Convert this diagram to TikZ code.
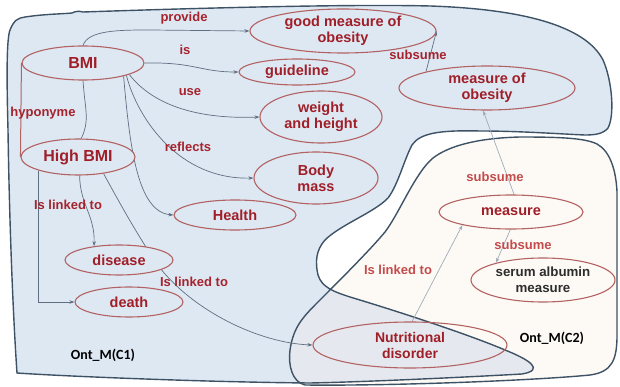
\documentclass[tikz,border=0pt]{standalone}
\usepackage{fontspec}
\setmainfont{Liberation Sans}
\newfontfamily\calfont{Carlito}
\usetikzlibrary{arrows.meta,shapes.geometric}
\pgfdeclarelayer{bg}
\pgfdeclarelayer{lines}
\pgfsetlayers{bg,lines,main}
\definecolor{cOneFill}{RGB}{222,232,243}
\definecolor{cTwoFill}{RGB}{253,250,245}
\definecolor{cBoth}{RGB}{229,233,239}
\definecolor{regline}{RGB}{62,82,102}
\definecolor{entline}{RGB}{178,98,98}
\definecolor{enttext}{RGB}{160,30,40}
\definecolor{reltext}{RGB}{165,35,45}
\definecolor{reltextb}{RGB}{195,75,75}
\definecolor{lnkcol}{RGB}{95,110,128}
\definecolor{lnkcolb}{RGB}{160,172,185}
\begin{document}
\begin{tikzpicture}[x=1pt,y=-1pt,
 ent/.style={ellipse, draw=entline, line width=1.1pt, inner sep=0pt, align=center, text=enttext, font=\fontsize{14.5}{16}\selectfont\bfseries},
 rel/.style={text=reltext, font=\fontsize{13}{15}\selectfont\bfseries, inner sep=0pt},
 relb/.style={rel, text=reltextb},
 lnk/.style={draw=lnkcol, line width=0.7pt, -{Stealth[length=5pt,width=3.5pt]}},
 lnkb/.style={lnk, draw=lnkcolb},
 plainlnk/.style={draw=lnkcol, line width=0.7pt},
 region/.style={draw=regline, line width=1.4pt},
 ontlabel/.style={font=\calfont\fontsize{14}{16}\selectfont\bfseries, text=black, inner sep=0pt}
]
\useasboundingbox (0,0) rectangle (620,387);

% regions
\path[save path=\pathCone]
 (25,17) .. controls (45,14) and (62,14) .. (72,13)
 .. controls (76,11) and (79,11) .. (83,12)
 .. controls (200,8) and (350,4) .. (430,6)
 .. controls (520,9) and (585,25) .. (603,60)
 .. controls (612,80) and (615,115) .. (608,128)
 .. controls (603,134) and (595,135) .. (585,135)
 .. controls (560,134) and (520,131) .. (480,131)
 .. controls (440,130) and (420,133) .. (412,145)
 .. controls (404,160) and (398,185) .. (388,198)
 .. controls (375,212) and (340,225) .. (325,240)
 .. controls (316,250) and (315,262) .. (318,275)
 .. controls (322,288) and (335,292) .. (350,297)
 .. controls (400,312) and (470,335) .. (505,350)
 .. controls (530,360) and (545,370) .. (522,374)
 .. controls (450,378) and (360,382) .. (310,383)
 .. controls (200,382) and (60,376) .. (17,373)
 .. controls (12,300) and (9,200) .. (8,130)
 .. controls (7,90) and (6,40) .. (10,30)
 .. controls (14,20) and (18,18) .. (25,17) -- cycle;
\path[save path=\pathCtwo]
 (520,137) .. controls (560,137) and (585,138) .. (597,144)
 .. controls (610,151) and (616,170) .. (617,192)
 -- (617,335)
 .. controls (617,360) and (612,372) .. (590,375)
 .. controls (540,380) and (400,386) .. (305,385)
 .. controls (292,382) and (288,365) .. (290,350)
 .. controls (293,330) and (300,320) .. (315,305)
 .. controls (340,280) and (370,250) .. (385,232)
 .. controls (400,212) and (415,173) .. (433,158)
 .. controls (450,145) and (480,138) .. (520,137) -- cycle;

\begin{pgfonlayer}{bg}
\path[fill=cOneFill, use path=\pathCone];
\path[fill=cTwoFill, use path=\pathCtwo];
\begin{scope}
\clip[use path=\pathCone];
\path[fill=cBoth, use path=\pathCtwo];
\end{scope}
\path[region, use path=\pathCone];
\path[region, use path=\pathCtwo];
\end{pgfonlayer}

% entities
\node[ent, fill=cOneFill, minimum width=122pt, minimum height=34pt, font=\fontsize{16}{18}\selectfont\bfseries] (bmi) at (83,63) {BMI};
\node[ent, fill=cOneFill, minimum width=114pt, minimum height=36pt, font=\fontsize{16}{18}\selectfont\bfseries] (highbmi) at (78,157) {High BMI};
\node[ent, fill=cOneFill, minimum width=186pt, minimum height=44pt] (good) at (343,31) {good measure of\\obesity};
\node[ent, fill=cOneFill, minimum width=116pt, minimum height=26pt] (guide) at (297,72) {guideline};
\node[ent, fill=cOneFill, minimum width=122pt, minimum height=52pt] (wh) at (321,117) {weight\\and height};
\node[ent, fill=cOneFill, minimum width=124pt, minimum height=52pt] (body) at (316,178) {Body\\mass};
\node[ent, fill=cOneFill, minimum width=122pt, minimum height=30pt] (health) at (235,215) {Health};
\node[ent, fill=cOneFill, minimum width=108pt, minimum height=30pt] (disease) at (119,260) {disease};
\node[ent, fill=cOneFill, minimum width=108pt, minimum height=30pt] (death) at (129,302) {death};
\node[ent, fill=cOneFill, minimum width=176pt, minimum height=44pt] (moo) at (487,88) {measure of\\obesity};
\node[ent, fill=cTwoFill, minimum width=144pt, minimum height=34pt] (measure) at (511,212) {measure};
\node[ent, fill=cTwoFill, minimum width=144pt, minimum height=44pt, text={rgb,255:red,45;green,45;blue,45}, font=\fontsize{13.3}{16}\selectfont\bfseries] (serum) at (543,280) {serum albumin\\measure};
\node[ent, minimum width=194pt, minimum height=46pt, font=\fontsize{14}{16}\selectfont\bfseries] (nd) at (410,345) {Nutritional\\disorder};

% connectors
\begin{pgfonlayer}{lines}
\draw[lnk] (bmi.north) .. controls (88,30) and (120,30) .. (150,30) -- (good.west);
\draw[lnk] (bmi.east) .. controls (195,62) and (200,72) .. (guide.west);
\draw[lnk] (bmi.-14) .. controls (145,95) and (180,120) .. (wh.west);
\draw[lnk] (bmi.-16) .. controls (138,120) and (180,180) .. (body.west);
\draw[lnk] (bmi.-18) .. controls (130,150) and (138,212) .. (health.west);
\draw[entline, line width=1pt] (bmi.west) -- (highbmi.west);
\draw[plainlnk] (bmi.south) .. controls (85,110) and (90,120) .. (highbmi.80);
\draw[lnk] (highbmi.-161) |- (death.west);
\draw[lnk] (highbmi.-85) .. controls (80,205) and (95,215) .. (disease.151);
\draw[lnk] (highbmi.-33) .. controls (118,200) and (140,240) .. (160,268) .. controls (195,312) and (260,343) .. (nd.west);
\draw[lnkb] (nd.85) -- (measure.-165);
\draw[lnkb] (measure.80) -- (moo.-100);
\draw[lnk] (moo.165) -- (good.east);
\draw[lnkb] (measure.-92) -- (serum.160);
\end{pgfonlayer}

% relation labels
\node[rel] (lprovide) at (184,18) {provide};
\node[rel] (lis) at (185,50) {is};
\node[rel] (luse) at (190,92) {use};
\node[rel] (lreflects) at (188,147) {reflects};
\node[rel] (lhypo) at (43,113) {hyponyme};
\node[rel] (llinkA) at (68,205) {Is linked to};
\node[rel] (llinkB) at (194,282) {Is linked to};
\node[rel] (lsubA) at (418,55) {subsume};
\node[relb] (lsubB) at (495,177) {subsume};
\node[relb] (lsubC) at (523,245) {subsume};
\node[relb] (llinkC) at (398,270) {Is linked to};
\node[ontlabel] (ontone) at (103,355) {Ont\_M(C1)};
\node[ontlabel] (onttwo) at (552,338) {Ont\_M(C2)};
\end{tikzpicture}
\end{document}
